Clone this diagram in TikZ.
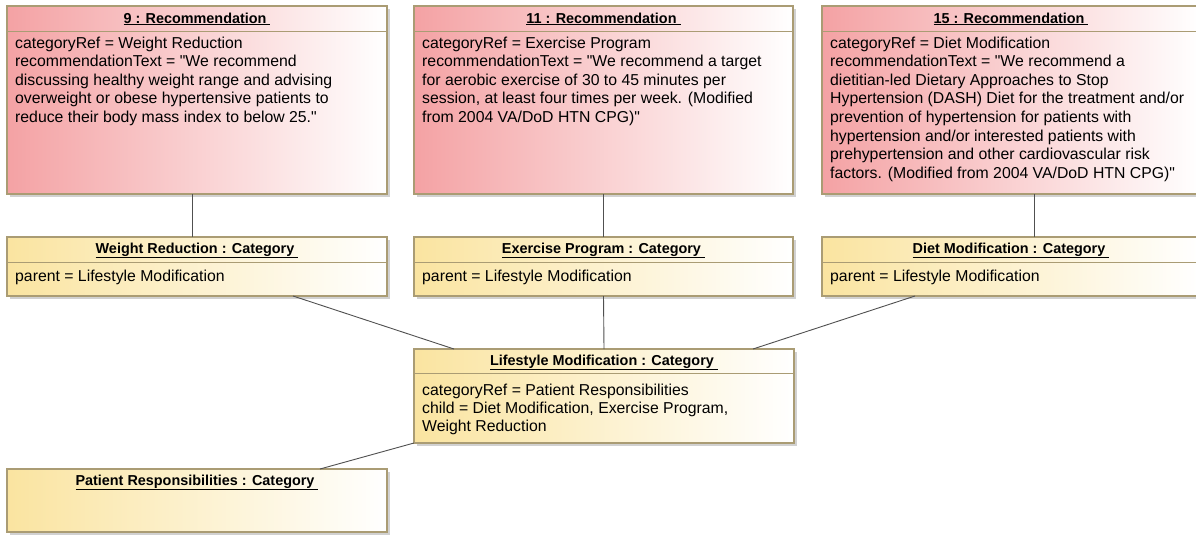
\documentclass[tikz,border=0pt]{standalone}
\usepackage{fontspec}
\setmainfont{Liberation Sans}[Ligatures=TeXOff]
\usetikzlibrary{shadows}
\definecolor{recpink}{RGB}{244,162,164}
\definecolor{catyel}{RGB}{250,228,160}
\definecolor{bordc}{RGB}{170,156,116}
\definecolor{linec}{RGB}{80,80,80}
\definecolor{shadc}{RGB}{165,165,165}
\begin{document}
\begin{tikzpicture}[x=1pt,y=-1pt,
  box/.style={draw=bordc, line width=1.1pt, anchor=north west, inner sep=0pt, outer sep=0pt,
    drop shadow={shadow xshift=3pt, shadow yshift=-3pt, fill=shadc, draw=none}},
  recbox/.style={box, left color=recpink, right color=white},
  catbox/.style={box, left color=catyel, right color=white},
  ttl/.style={font=\fontsize{14.4}{17}\selectfont\bfseries, inner sep=0pt, anchor=center},
  body/.style={font=\fontsize{15.8}{18.6}\selectfont, align=left, inner sep=0pt, anchor=north west},
  sep/.style={draw=bordc, line width=1pt},
  conn/.style={draw=linec, line width=0.9pt}]
\clip (0,0) rectangle (1196,535);
\fill[white] (0,0) rectangle (1196,535);

% Recommendation boxes
\node[recbox, minimum width=380pt, minimum height=188pt] (b9) at (7,6) {};
\node[recbox, minimum width=379pt, minimum height=188pt] (b11) at (414,6) {};
\node[recbox, minimum width=378pt, minimum height=188pt] (b15) at (822,6) {};
\foreach \b in {b9,b11,b15}{
  \draw[sep] ([yshift=-26pt]\b.north west) -- ([yshift=-26pt]\b.north east);
}
\node[ttl] (t9) at ([yshift=-13pt]b9.north) {\underline{9 : Recommendation\ }};
\node[ttl] (t11) at ([yshift=-13pt]b11.north) {\underline{11 : Recommendation\ }};
\node[ttl] (t15) at ([yshift=-13pt]b15.north) {\underline{15 : Recommendation\ }};
\node[body] (x9) at ([xshift=8pt,yshift=-30.5pt]b9.north west) {categoryRef = Weight Reduction\\
recommendationText = "We recommend\\
discussing healthy weight range and advising\\
overweight or obese hypertensive patients to\\
reduce their body mass index to below 25."};
\node[body] (x11) at ([xshift=8pt,yshift=-30.5pt]b11.north west) {categoryRef = Exercise Program\\
recommendationText = "We recommend a target\\
for aerobic exercise of 30 to 45 minutes per\\
session, at least four times per week. (Modified\\
from 2004 VA/DoD HTN CPG)"};
\node[body] (x15) at ([xshift=8pt,yshift=-30.5pt]b15.north west) {categoryRef = Diet Modification\\
recommendationText = "We recommend a\\
dietitian-led Dietary Approaches to Stop\\
Hypertension (DASH) Diet for the treatment and/or\\
prevention of hypertension for patients with\\
hypertension and/or interested patients with\\
prehypertension and other cardiovascular risk\\
factors. (Modified from 2004 VA/DoD HTN CPG)"};

% Category boxes
\node[catbox, minimum width=380pt, minimum height=59pt] (wr) at (7,237) {};
\node[catbox, minimum width=379pt, minimum height=59pt] (ep) at (414,237) {};
\node[catbox, minimum width=378pt, minimum height=59pt] (dm) at (822,237) {};
\node[catbox, minimum width=380pt, minimum height=94pt] (lm) at (414,349) {};
\node[catbox, minimum width=380pt, minimum height=63pt] (pr) at (7,469) {};
\foreach \b in {wr,ep,dm}{
  \draw[sep] ([yshift=-25.5pt]\b.north west) -- ([yshift=-25.5pt]\b.north east);
}
\draw[sep] ([yshift=-24pt]lm.north west) -- ([yshift=-24pt]lm.north east);
\node[ttl] (twr) at ([yshift=-13.5pt]wr.north) {\underline{Weight Reduction : Category\ }};
\node[ttl] (tep) at ([yshift=-13.5pt]ep.north) {\underline{Exercise Program : Category\ }};
\node[ttl] (tdm) at ([yshift=-13.5pt]dm.north) {\underline{Diet Modification : Category\ }};
\node[ttl] (tlm) at ([yshift=-13.5pt]lm.north) {\underline{Lifestyle Modification : Category\ }};
\node[ttl] (tpr) at ([yshift=-13.5pt]pr.north) {\underline{Patient Responsibilities : Category\ }};
\node[body] (xwr) at ([xshift=8pt,yshift=-33pt]wr.north west) {parent = Lifestyle Modification};
\node[body] (xep) at ([xshift=8pt,yshift=-33pt]ep.north west) {parent = Lifestyle Modification};
\node[body] (xdm) at ([xshift=8pt,yshift=-33pt]dm.north west) {parent = Lifestyle Modification};
\node[body, font=\fontsize{15.8}{18}\selectfont] (xlm) at ([xshift=8pt,yshift=-35pt]lm.north west) {categoryRef = Patient Responsibilities\\
child = Diet Modification, Exercise Program,\\
Weight Reduction};

% Connectors
\draw[conn] ([xshift=-5pt]b9.south) -- ([xshift=-5pt]wr.north);
\draw[conn] (b11.south) -- (ep.north);
\draw[conn] ([xshift=212pt]b15.south west) -- ([xshift=212pt]dm.north west);
\draw[conn] ([xshift=286pt]wr.south west) -- ([xshift=40pt]lm.north west);
\draw[conn] (ep.south) -- (lm.north);
\draw[conn] ([xshift=93pt]dm.south west) -- ([xshift=-41pt]lm.north east);
\draw[conn] (lm.south west) -- ([xshift=313pt]pr.north west);
\end{tikzpicture}
\end{document}
